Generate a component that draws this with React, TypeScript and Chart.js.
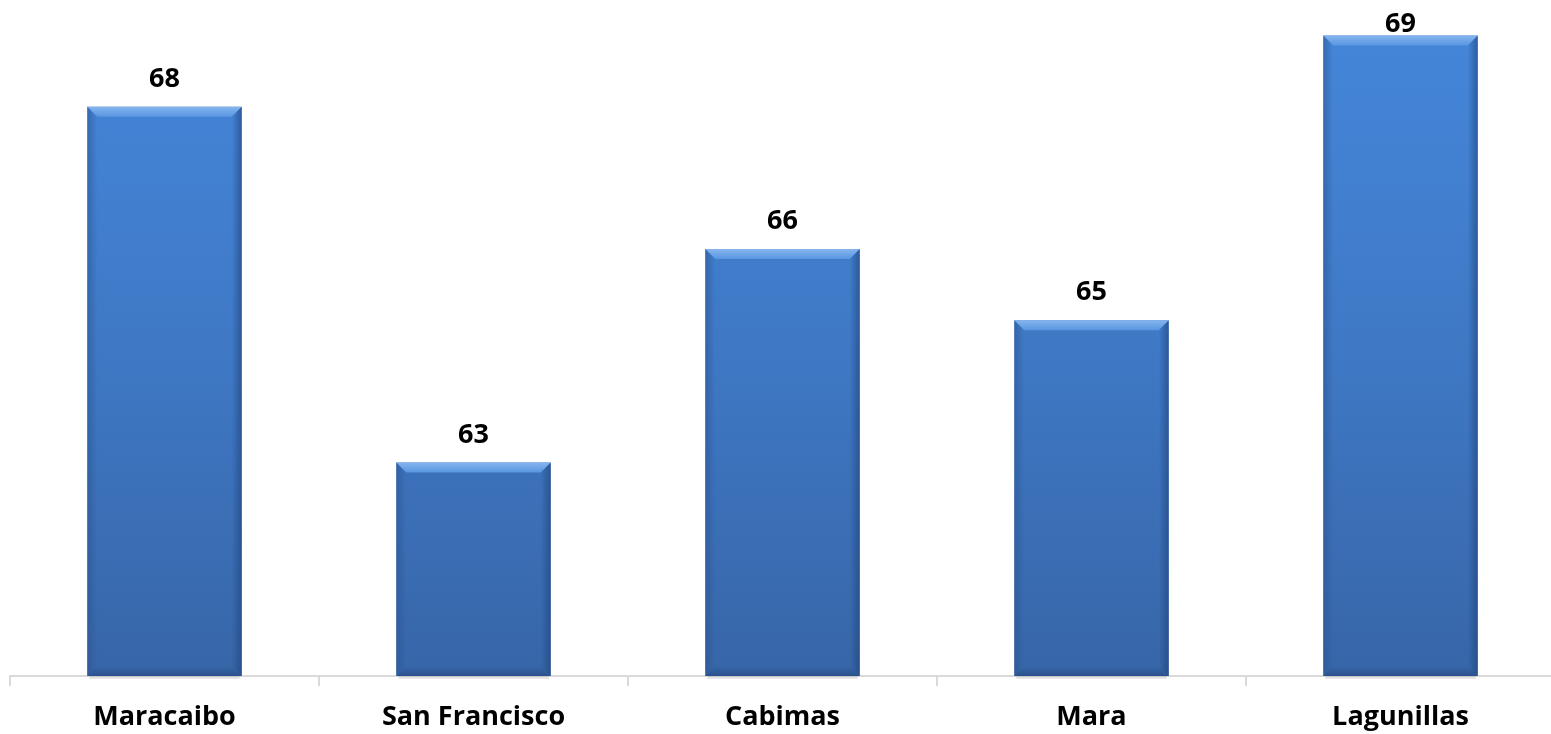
import React, { useEffect, useRef } from "react";
import { Chart, registerables } from "chart.js";

Chart.register(...registerables);

const categories = ["Maracaibo", "San Francisco", "Cabimas", "Mara", "Lagunillas"];
const values = [68, 63, 66, 65, 69];
const yMin = 60;
const yMax = 69.5;

const FONT = "'Open Sans', 'Liberation Sans', sans-serif";

const bevelPlugin = {
  id: "bevel",
  afterDatasetsDraw(chart: any) {
    const ctx = chart.ctx;
    const area = chart.chartArea;
    const meta = chart.getDatasetMeta(0);
    meta.data.forEach((bar: any, i: number) => {
      const { x, y, base, width } = bar.getProps(["x", "y", "base", "width"], true);
      const l = x - width / 2;
      const r = x + width / 2;
      const t = y;
      const b = Math.min(base, area.bottom);
      const bv = 10;
      ctx.save();
      // soft shadow below bar
      ctx.fillStyle = "rgba(0,0,0,0.10)";
      ctx.fillRect(l + 2, b, width - 4, 3);
      // top bevel
      const tg = ctx.createLinearGradient(0, t, 0, t + bv);
      tg.addColorStop(0, "#86b5ee");
      tg.addColorStop(1, "#5896e1");
      ctx.fillStyle = tg;
      ctx.beginPath();
      ctx.moveTo(l, t);
      ctx.lineTo(r, t);
      ctx.lineTo(r - bv, t + bv);
      ctx.lineTo(l + bv, t + bv);
      ctx.closePath();
      ctx.fill();
      // left bevel
      const lg = ctx.createLinearGradient(l, 0, l + bv, 0);
      lg.addColorStop(0, "rgba(40,80,140,0.5)");
      lg.addColorStop(1, "rgba(40,80,140,0)");
      ctx.fillStyle = lg;
      ctx.beginPath();
      ctx.moveTo(l, t);
      ctx.lineTo(l + bv, t + bv);
      ctx.lineTo(l + bv, b - bv);
      ctx.lineTo(l, b);
      ctx.closePath();
      ctx.fill();
      // right bevel
      const rg = ctx.createLinearGradient(r, 0, r - bv, 0);
      rg.addColorStop(0, "rgba(30,65,120,0.6)");
      rg.addColorStop(1, "rgba(30,65,120,0)");
      ctx.fillStyle = rg;
      ctx.beginPath();
      ctx.moveTo(r, t);
      ctx.lineTo(r - bv, t + bv);
      ctx.lineTo(r - bv, b - bv);
      ctx.lineTo(r, b);
      ctx.closePath();
      ctx.fill();
      // bottom bevel
      const bg = ctx.createLinearGradient(0, b, 0, b - bv);
      bg.addColorStop(0, "rgba(30,65,120,0.55)");
      bg.addColorStop(1, "rgba(30,65,120,0)");
      ctx.fillStyle = bg;
      ctx.beginPath();
      ctx.moveTo(l, b);
      ctx.lineTo(r, b);
      ctx.lineTo(r - bv, b - bv);
      ctx.lineTo(l + bv, b - bv);
      ctx.closePath();
      ctx.fill();
      // value label
      ctx.fillStyle = "#000";
      ctx.font = `bold 27px ${FONT}`;
      ctx.textAlign = "center";
      ctx.textBaseline = "alphabetic";
      ctx.fillText(String(values[i]), x, Math.max(t - 20, 32));
      ctx.restore();
    });
  },
};

export default function App() {
  const ref = useRef<HTMLCanvasElement | null>(null);
  useEffect(() => {
    if (!ref.current) return;
    const chart = new Chart(ref.current, {
      type: "bar",
      data: {
        labels: categories,
        datasets: [
          {
            data: values,
            backgroundColor: (c: any) => {
              const area = c.chart.chartArea;
              if (!area) return "#3f78c3";
              const g = c.chart.ctx.createLinearGradient(0, area.top, 0, area.bottom);
              g.addColorStop(0, "#4587db");
              g.addColorStop(0.5, "#3f79c6");
              g.addColorStop(1, "#3766a8");
              return g;
            },
            borderWidth: 0,
            barPercentage: 0.5,
            categoryPercentage: 1,
          },
        ],
      },
      options: {
        responsive: false,
        animation: false,
        layout: { padding: { left: 10, right: 5, top: 0, bottom: 0 } },
        plugins: { legend: { display: false }, tooltip: { enabled: false } },
        scales: {
          y: { display: false, min: yMin, max: yMax },
          x: {
            afterFit: (s: any) => {
              s.height = 58;
            },
            border: { display: true, color: "#d9d9d9", width: 2 },
            grid: {
              display: true,
              drawOnChartArea: false,
              drawTicks: true,
              tickLength: 10,
              color: "#d9d9d9",
              lineWidth: 2,
              offset: true,
            },
            ticks: {
              color: "#000",
              padding: 15,
              font: { family: FONT, size: 27, weight: "bold" },
            },
          },
        },
      },
      plugins: [bevelPlugin],
    } as any);
    return () => chart.destroy();
  }, []);
  return (
    <div style={{ position: "fixed", left: 0, top: 0, width: 1551, height: 734, overflow: "hidden", background: "#fff" }}>
      <canvas ref={ref} width={1560} height={734} />
    </div>
  );
}
